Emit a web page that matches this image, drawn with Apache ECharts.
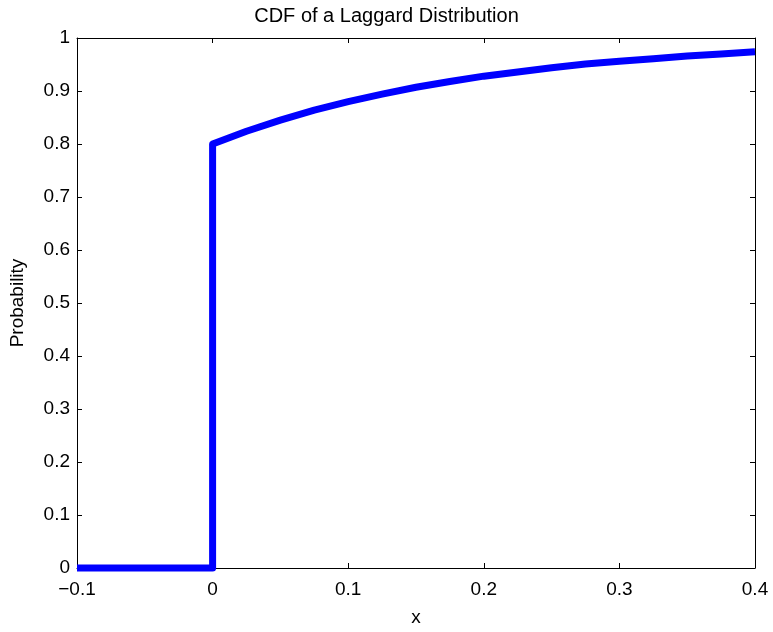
<!DOCTYPE html>
<html lang="en">
<head>
    <meta charset="UTF-8">
    <title>CDF of a Laggard Distribution</title>
    <script type="text/javascript" src="https://cdn.jsdelivr.net/npm/echarts@6/dist/echarts.min.js"></script>
    <style>
        html, body { margin: 0; padding: 0; background: #fff; }
    </style>
</head>
<body>
<div id="main" style="width: 773px; height: 632px;"></div>
<script type="text/javascript">
    // values
    var xValues = [-0.1, 0, 0, 0.025, 0.05, 0.075, 0.1, 0.125, 0.15, 0.175, 0.2,
                   0.225, 0.25, 0.275, 0.3, 0.325, 0.35, 0.375, 0.4];
    var yValues = [0, 0, 0.8, 0.824, 0.845, 0.864, 0.880, 0.894, 0.907, 0.918, 0.928,
                   0.936, 0.944, 0.951, 0.956, 0.961, 0.966, 0.970, 0.974];
    var xTicks = [-0.1, 0, 0.1, 0.2, 0.3, 0.4];
    var yTicks = [0, 0.1, 0.2, 0.3, 0.4, 0.5, 0.6, 0.7, 0.8, 0.9, 1];

    var points = [];
    for (var i = 0; i < xValues.length; i++) {
        points.push([xValues[i], yValues[i]]);
    }

    var font = 'Liberation Sans, Arial, sans-serif';

    function fmt(v) {
        var s = String(Math.round(v * 10) / 10);
        return s.replace('-', '\u2212');
    }

    function xAxisOf(pos, labels) {
        return {
            type: 'value',
            position: pos,
            min: xTicks[0],
            max: xTicks[xTicks.length - 1],
            interval: 0.1,
            name: labels ? 'x' : '',
            nameLocation: 'middle',
            nameGap: 40,
            nameTextStyle: { color: '#000', fontFamily: font, fontSize: 19 },
            axisLine: { show: true, onZero: false, lineStyle: { color: '#000', width: 1 } },
            axisTick: { show: true, inside: true, length: 5, lineStyle: { color: '#000' } },
            axisLabel: {
                show: labels, color: '#000', fontFamily: font, fontSize: 19, margin: 12,
                formatter: fmt
            },
            splitLine: { show: false }
        };
    }

    function yAxisOf(pos, labels) {
        return {
            type: 'value',
            position: pos,
            min: yTicks[0],
            max: yTicks[yTicks.length - 1],
            interval: 0.1,
            name: labels ? 'Probability' : '',
            nameLocation: 'middle',
            nameGap: 50,
            nameTextStyle: { color: '#000', fontFamily: font, fontSize: 19 },
            axisLine: { show: true, onZero: false, lineStyle: { color: '#000', width: 1 } },
            axisTick: { show: true, inside: true, length: 5, lineStyle: { color: '#000' } },
            axisLabel: {
                show: labels, color: '#000', fontFamily: font, fontSize: 19, margin: 7,
                formatter: fmt
            },
            splitLine: { show: false }
        };
    }

    var myChart = echarts.init(document.getElementById('main'));
    var option = {
        animation: false,
        title: {
            text: 'CDF of a Laggard Distribution',
            left: 'center',
            top: 1,
            textStyle: { color: '#000', fontFamily: font, fontSize: 20, fontWeight: 'normal' }
        },
        grid: { left: 77, right: 18, top: 38, bottom: 60 },
        xAxis: [xAxisOf('bottom', true), xAxisOf('top', false)],
        yAxis: [yAxisOf('left', true), yAxisOf('right', false)],
        series: [
            {
                type: 'line',
                data: points,
                xAxisIndex: 0,
                yAxisIndex: 0,
                showSymbol: false,
                clip: false,
                lineStyle: { color: '#0000ff', width: 7, join: 'round' }
            }
        ]
    };
    myChart.setOption(option);
</script>
</body>
</html>
